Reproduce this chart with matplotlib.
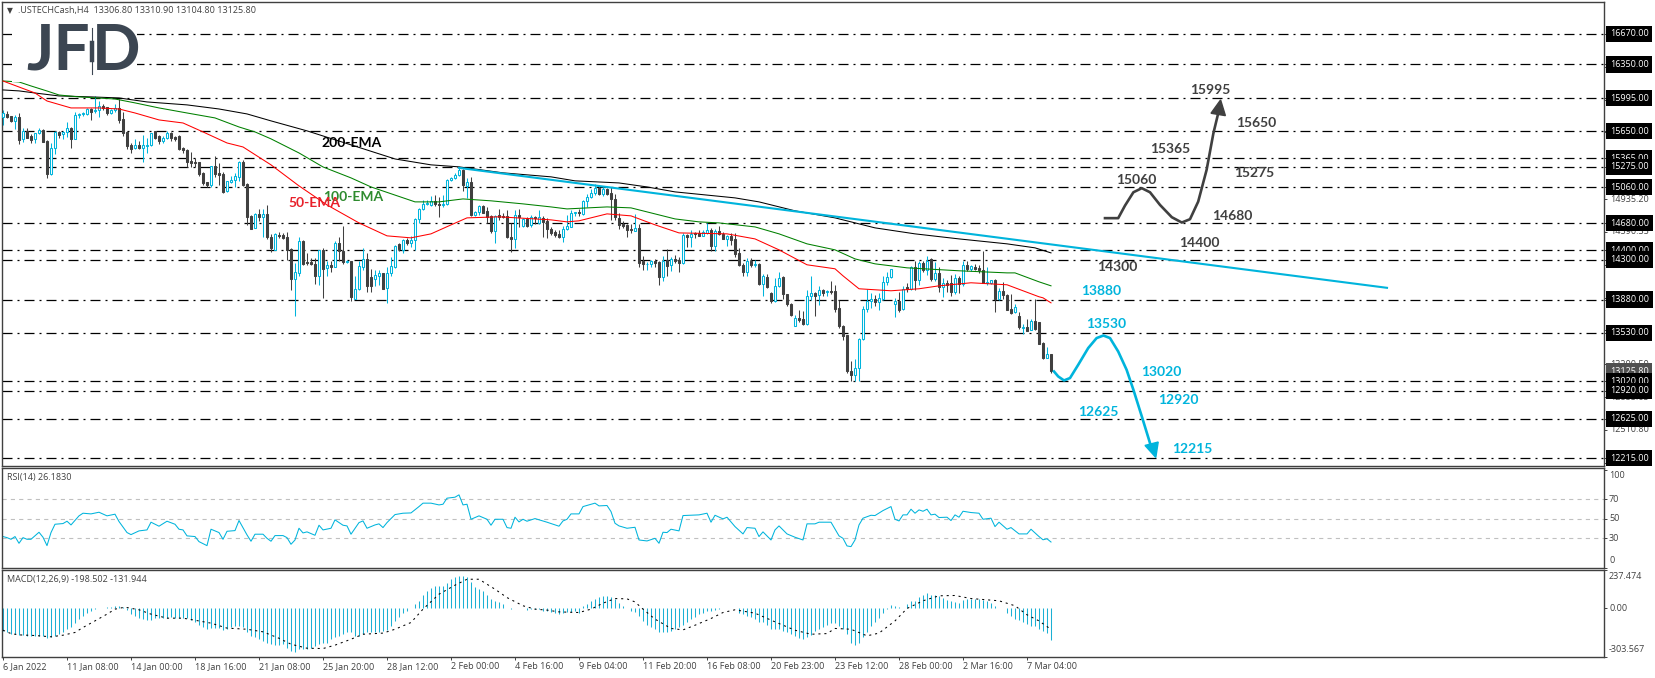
import matplotlib
matplotlib.use('Agg')
import matplotlib.pyplot as plt
from matplotlib.lines import Line2D

plt.rcParams['font.family'] = ['Open Sans', 'DejaVu Sans']
plt.rcParams['lines.scale_dashes'] = False

# Candles, bar 0 to 262 (b = up, d = down)
candle_dir = ("bddbdbddbb" "ddbbdbbdbb" "bbdbbddbbd" "dddbdbbbdd" "bbdddddddd"
              "ddbdddbbbb" "dddbdbddbd" "dddbbddddb" "dbdbddbdbb" "bddbbdbbbd"
              "bdbbbbbbdd" "bbbbbdbdbb" "dddbddddbd" "bdbdbddddd" "bbbbdbbbbd"
              "bdddddddbd" "dbbddbdbdd" "bdbddbbdbd" "dbddddbdbd" "bddbbdddbd"
              "dbbdbdbddd" "dddbbbbbdb" "bbbbdbdbdb" "dbdbdbddbd" "bdbdddbbdb"
              "dddbdbdbdd" "dbd")
highs = [15872, 15858, 15813, 15820, 15841, 15680, 15680, 15620, 15634, 15680,
         15669, 15557, 15522, 15652, 15652, 15652, 15746, 15697, 15847, 15844,
         15847, 15896, 15896, 16019, 15966, 15935, 15907, 15879, 15935, 15984,
         15854, 15652, 15522, 15564, 15546, 15610, 15574, 15627, 15648, 15610,
         15596, 15648, 15645, 15602, 15610, 15487, 15462, 15434, 15372, 15330,
         15218, 15120, 15284, 15389, 15319, 15224, 15130, 15179, 15207, 15340,
         15347, 15102, 14770, 14787, 14829, 14829, 14874, 14570, 14577, 14588,
         14577, 14594, 14420, 14269, 14532, 14507, 14374, 14314, 14314, 14402,
         14420, 14280, 14280, 14490, 14532, 14654, 14297, 14290, 14122, 14280,
         14426, 14367, 14202, 14192, 14192, 14157, 14227, 14332, 14454, 14472,
         14514, 14524, 14549, 14734, 14840, 14927, 14927, 14972, 14980, 14962,
         14980, 15144, 15172, 15207, 15270, 15249, 15154, 15172, 14812, 14874,
         14874, 14857, 14770, 14770, 14829, 14787, 14822, 14682, 14822, 14829,
         14734, 14752, 14770, 14759, 14822, 14762, 14734, 14640, 14612, 14612,
         14654, 14770, 14822, 14804, 14829, 14927, 14986, 15039, 15092, 15074,
         15067, 15056, 15067, 14986, 14787, 14706, 14675, 14675, 14776, 14675,
         14339, 14272, 14297, 14304, 14280, 14339, 14409, 14325, 14350, 14325,
         14584, 14570, 14612, 14594, 14612, 14612, 14689, 14630, 14619, 14654,
         14594, 14560, 14577, 14577, 14420, 14262, 14314, 14314, 14297, 14269,
         14150, 14150, 13964, 14104, 14174, 14122, 13940, 13842, 13720, 13772,
         13762, 13982, 14122, 13964, 14017, 13989, 13982, 14077, 14034, 13877,
         13614, 13510, 13236, 13254, 13475, 13814, 13989, 13947, 13930, 13947,
         14122, 14174, 14199, 13894, 13964, 14024, 14052, 14234, 14290, 14280,
         14280, 14339, 14314, 14272, 14220, 14104, 14080, 14140, 14150, 14129,
         14290, 14290, 14244, 14255, 14244, 14392, 14220, 14087, 14094, 14000,
         14062, 13940, 13940, 13835, 13744, 13625, 13674, 13674, 13884, 13639,
         13429, 13380, 13311]
lows = [15715, 15784, 15750, 15669, 15515, 15540, 15574, 15522, 15529, 15620,
        15536, 15162, 15186, 15410, 15581, 15567, 15592, 15477, 15564, 15784,
        15812, 15820, 15767, 15837, 15802, 15872, 15820, 15827, 15854, 15732,
        15602, 15462, 15417, 15462, 15462, 15322, 15417, 15494, 15567, 15512,
        15522, 15564, 15546, 15550, 15452, 15424, 15270, 15270, 15270, 15182,
        15084, 15067, 15060, 15172, 15084, 15004, 15014, 15102, 15060, 15126,
        15078, 14664, 14619, 14630, 14710, 14542, 14514, 14384, 14402, 14525,
        14514, 14297, 13982, 13712, 14122, 14244, 14244, 14244, 14045, 14028,
        13895, 14122, 14174, 14220, 14280, 14255, 14262, 13860, 13884, 13982,
        14192, 13958, 13958, 14017, 14034, 13989, 13842, 14122, 14210, 14395,
        14374, 14454, 14430, 14402, 14682, 14822, 14874, 14864, 14864, 14742,
        14850, 14874, 15130, 15144, 15179, 15025, 14944, 14762, 14759, 14770,
        14787, 14682, 14577, 14472, 14717, 14734, 14524, 14378, 14420, 14647,
        14647, 14647, 14647, 14675, 14675, 14542, 14524, 14560, 14542, 14524,
        14482, 14612, 14640, 14762, 14759, 14770, 14857, 14945, 14980, 14980,
        14969, 14980, 14717, 14717, 14622, 14630, 14532, 14584, 14595, 14220,
        14192, 14192, 14220, 14227, 14034, 14070, 14122, 14185, 14262, 14174,
        14255, 14430, 14437, 14524, 14549, 14549, 14570, 14385, 14385, 14560,
        14514, 14444, 14454, 14322, 14234, 14129, 14129, 14227, 14220, 14034,
        13912, 14000, 13842, 13852, 14010, 13884, 13814, 13712, 13597, 13639,
        13614, 13614, 13870, 13709, 13818, 13912, 13919, 13940, 13754, 13580,
        13457, 13107, 13026, 13026, 13026, 13457, 13754, 13790, 13814, 13765,
        13877, 14034, 14104, 13692, 13754, 13772, 13964, 13982, 13982, 14034,
        14174, 14140, 14070, 14077, 13964, 13902, 13964, 13912, 13940, 13947,
        14017, 14185, 14185, 14192, 14164, 14052, 14034, 14045, 13744, 13877,
        13884, 13765, 13730, 13737, 13569, 13520, 13545, 13555, 13562, 13412,
        13254, 13264, 13105]
body_tops = [15837, 15827, 15806, 15795, 15798, 15648, 15652, 15599, 15627, 15658,
             15662, 15546, 15473, 15641, 15641, 15645, 15680, 15680, 15816, 15827,
             15837, 15879, 15879, 15868, 15910, 15910, 15900, 15868, 15893, 15893,
             15778, 15641, 15505, 15505, 15505, 15501, 15501, 15627, 15648, 15599,
             15574, 15627, 15627, 15588, 15599, 15470, 15452, 15336, 15322, 15322,
             15210, 15112, 15280, 15284, 15207, 15196, 15123, 15134, 15176, 15322,
             15326, 15092, 14762, 14780, 14780, 14776, 14780, 14532, 14570, 14560,
             14556, 14532, 14416, 14168, 14496, 14496, 14276, 14272, 14252, 14402,
             14402, 14244, 14244, 14479, 14479, 14395, 14286, 14290, 13989, 14234,
             14308, 14308, 14112, 14140, 14157, 14157, 14157, 14234, 14447, 14465,
             14507, 14507, 14507, 14727, 14829, 14885, 14899, 14916, 14916, 14885,
             14885, 15137, 15154, 15186, 15242, 15242, 15112, 15120, 14798, 14864,
             14864, 14815, 14759, 14762, 14770, 14762, 14759, 14542, 14770, 14766,
             14724, 14724, 14745, 14742, 14742, 14734, 14700, 14622, 14588, 14570,
             14619, 14650, 14787, 14797, 14804, 14913, 14955, 15000, 15056, 15053,
             15039, 15042, 15000, 14934, 14734, 14675, 14661, 14619, 14630, 14630,
             14280, 14258, 14290, 14286, 14276, 14286, 14297, 14304, 14304, 14297,
             14556, 14560, 14570, 14577, 14577, 14588, 14612, 14612, 14602, 14602,
             14570, 14549, 14549, 14518, 14370, 14244, 14286, 14286, 14252, 14255,
             14122, 14115, 13947, 14024, 14108, 14112, 13937, 13832, 13684, 13688,
             13674, 13919, 13947, 13947, 13982, 13978, 13968, 13968, 13972, 13793,
             13597, 13510, 13132, 13160, 13464, 13779, 13860, 13888, 13888, 13894,
             14062, 14115, 14199, 13866, 13866, 13989, 14010, 14220, 14224, 14262,
             14262, 14280, 14304, 14157, 14157, 14052, 14052, 14052, 14104, 14104,
             14238, 14244, 14234, 14220, 14210, 14192, 14062, 14080, 14080, 13968,
             13968, 13930, 13782, 13800, 13709, 13590, 13594, 13653, 13656, 13639,
             13422, 13310, 13307]
body_bots = [15802, 15802, 15760, 15760, 15557, 15564, 15578, 15560, 15564, 15627,
             15540, 15200, 15200, 15470, 15613, 15617, 15645, 15571, 15571, 15816,
             15827, 15834, 15854, 15858, 15868, 15890, 15840, 15844, 15868, 15767,
             15634, 15494, 15466, 15470, 15470, 15470, 15498, 15501, 15578, 15550,
             15546, 15574, 15578, 15564, 15462, 15448, 15330, 15319, 15319, 15200,
             15109, 15084, 15088, 15200, 15193, 15014, 15018, 15120, 15134, 15172,
             15088, 14752, 14626, 14630, 14748, 14752, 14532, 14420, 14402, 14552,
             14525, 14402, 14098, 14098, 14157, 14255, 14262, 14255, 14132, 14132,
             14202, 14210, 14227, 14227, 14395, 14272, 14272, 13902, 13888, 13989,
             14227, 14017, 14017, 14098, 14132, 13992, 13996, 14157, 14220, 14409,
             14402, 14479, 14479, 14507, 14724, 14829, 14885, 14878, 14885, 14871,
             14871, 14885, 15137, 15154, 15186, 15084, 15078, 14770, 14770, 14798,
             14787, 14745, 14602, 14605, 14745, 14752, 14532, 14518, 14514, 14742,
             14654, 14654, 14658, 14734, 14689, 14692, 14619, 14584, 14560, 14535,
             14535, 14619, 14647, 14787, 14787, 14780, 14910, 14955, 14997, 14990,
             14990, 14990, 14934, 14742, 14664, 14654, 14612, 14612, 14602, 14269,
             14255, 14252, 14255, 14269, 14112, 14112, 14234, 14238, 14286, 14269,
             14262, 14532, 14532, 14570, 14552, 14552, 14584, 14444, 14444, 14570,
             14518, 14514, 14507, 14360, 14238, 14174, 14174, 14244, 14248, 14045,
             14045, 14007, 13860, 13860, 14017, 13937, 13832, 13720, 13607, 13667,
             13625, 13622, 13912, 13922, 13930, 13947, 13961, 13954, 13782, 13597,
             13502, 13125, 13090, 13090, 13160, 13464, 13779, 13860, 13852, 13849,
             13888, 14062, 14112, 13832, 13772, 13779, 13992, 13992, 14080, 14080,
             14192, 14192, 14094, 14094, 14007, 14007, 14034, 13964, 13964, 14045,
             14045, 14202, 14206, 14202, 14192, 14052, 14055, 14055, 13888, 13888,
             13930, 13772, 13737, 13744, 13587, 13583, 13552, 13562, 13569, 13415,
             13264, 13264, 13126]

# Moving averages, read at the bends
ema200_idx = [0, 4, 8, 14, 22, 29, 36, 46, 54, 61, 67, 76, 87, 98, 107, 114, 125, 137,
              143, 154, 161, 168, 183, 189, 198, 208, 218, 228, 239, 251, 258, 262]
ema200 = [16082, 16072, 16050, 16019, 16009, 15998, 15956, 15925, 15882, 15830, 15757,
          15652, 15505, 15357, 15295, 15274, 15211, 15169, 15127, 15105, 15063, 15011,
          14948, 14906, 14812, 14738, 14633, 14570, 14517, 14465, 14423, 14370]
ema100_idx = [0, 4, 7, 11, 14, 19, 28, 33, 39, 46, 53, 59, 63, 67, 74, 80, 87, 92, 103,
              109, 115, 122, 130, 137, 141, 151, 157, 168, 174, 179, 188, 194, 201, 208,
              213, 218, 226, 239, 251, 253, 259, 262]
ema100 = [16176, 16166, 16124, 16071, 16029, 16009, 15987, 15946, 15893, 15840, 15788,
          15693, 15641, 15568, 15420, 15273, 15158, 15063, 14906, 14906, 14937, 14917,
          14885, 14853, 14832, 14853, 14843, 14727, 14696, 14685, 14643, 14570, 14465,
          14402, 14307, 14255, 14213, 14182, 14160, 14160, 14066, 14024]
ema50_idx = [0, 4, 8, 11, 17, 24, 29, 33, 39, 45, 50, 56, 60, 67, 74, 81, 89, 96, 102,
             107, 112, 116, 124, 137, 141, 144, 151, 157, 163, 169, 181, 188, 194, 201,
             208, 210, 214, 222, 229, 234, 242, 251, 259, 260, 262]
ema50 = [16176, 16113, 16050, 15966, 15893, 15893, 15882, 15840, 15767, 15735, 15641,
         15525, 15483, 15295, 15074, 14874, 14685, 14549, 14528, 14570, 14664, 14738,
         14749, 14717, 14696, 14707, 14780, 14759, 14665, 14580, 14570, 14517, 14402,
         14245, 14203, 14129, 13993, 13972, 13993, 14024, 14056, 14035, 13909, 13898,
         13845]

# Trendline and the two scenario paths
trend_idx = [114, 346]
trend = [15263, 14003]
up_idx = [275.5, 278.8, 280.5, 282.6, 284.7, 286.75, 289.25, 292.2, 294.7, 296.75,
          298.8, 300.9, 302.6, 303.7]
up_path = [14735, 14735, 14867, 15007, 15050, 15007, 14874, 14745, 14689, 14724,
           14909, 15242, 15627, 15819]
up_head_idx = [304.4, 302, 305.6]
up_head = [15977, 15837, 15812]
down_idx = [262.75, 263.8, 265.25, 266.75, 268.8, 271.3, 273.4, 275.1, 276.75, 278.8,
            280.9, 282.6, 284.7, 286.75]
down_path = [13124, 13072, 13030, 13055, 13194, 13370, 13475, 13502, 13475, 13334,
             13142, 12932, 12652, 12372]
down_head_idx = [288.2, 285.5, 288.8]
down_head = [12221, 12347, 12383]

levels = [16670, 16350, 15995, 15650, 15365, 15275, 15060, 14680, 14400, 14300, 13880,
          13530, 13020, 12920, 12625, 12215]
price_ticks = [16325.65, 15980.80, 15635.95, 14935.20, 14590.35, 14245.50,
               13900.65, 13555.80, 13200.50, 12855.65, 12510.80, 12165.95]
last_price = 13125.80

# RSI, read at the bends
rsi_idx = [0, 1, 2, 3, 4, 5, 6, 7, 9, 10, 11, 12, 13, 15, 16, 17, 19, 20, 22, 24, 26, 28,
           29, 31, 32, 34, 36, 37, 39, 41, 43, 44, 45, 46, 48, 49, 51, 52, 54, 55, 56, 58,
           59, 61, 62, 63, 65, 66, 67, 68, 70, 71, 72, 73, 74, 75, 76, 78, 79, 80, 82, 83,
           85, 86, 87, 89, 90, 91, 93, 94, 95, 96, 98, 100, 102, 104, 105, 107, 109, 110,
           111, 113, 114, 115, 116, 117, 119, 121, 122, 123, 125, 126, 127, 128, 129, 130,
           131, 133, 136, 139, 140, 141, 142, 144, 145, 148, 149, 151, 152, 153, 154, 156,
           158, 159, 161, 163, 164, 165, 166, 167, 169, 170, 172, 174, 176, 177, 178, 180,
           181, 183, 185, 186, 188, 189, 190, 192, 193, 194, 196, 198, 200, 201, 203, 204,
           207, 209, 210, 211, 212, 213, 214, 215, 217, 218, 220, 222, 223, 224, 225, 226,
           227, 228, 229, 230, 231, 232, 233, 234, 236, 237, 238, 239, 240, 242, 244, 245,
           247, 248, 249, 251, 252, 254, 256, 257, 259, 260, 261, 262]
rsi = [31.8, 30.7, 29, 31.8, 24.9, 30.7, 29, 29, 36.2, 31.1, 22.5, 35.9, 44.4, 45.1, 47.5,
       43.7, 53, 55.7, 55, 56.7, 53, 54.7, 47.2, 35.9, 33.8, 37.6, 38.6, 46.5, 42.4, 47.5,
       44.4, 39.3, 38.6, 32.5, 31.8, 26.6, 22.5, 39.3, 35.9, 29, 37.2, 37.9, 48.2, 33.5,
       27, 34.2, 34.2, 30, 27, 32.8, 32.8, 30.7, 23.9, 28.3, 40.3, 35.5, 36.6, 33.1, 43.4,
       38.6, 40.3, 48.9, 43.4, 42.7, 34.2, 46.1, 47.8, 40.3, 43.7, 44.8, 41, 46.1, 54.3,
       55.7, 56, 62.5, 66, 66, 64.2, 64.9, 71.1, 72.1, 74.5, 64.2, 64.9, 49.5, 53, 49.5,
       43.4, 49.5, 49.5, 41, 40.3, 51.6, 46.8, 49.5, 47.5, 50.2, 46.5, 42.4, 47.8, 49.5,
       55, 55, 62.5, 66, 63.2, 63.6, 57.4, 45.4, 42.7, 40.3, 41.3, 28.3, 27.3, 30, 24.9,
       36.2, 35.9, 39.3, 37.6, 53.3, 53.6, 54, 55.7, 46.5, 53.6, 49.9, 51.6, 42, 34.5, 41,
       40.3, 31.8, 36.6, 28.3, 38.6, 42.7, 34.5, 31.1, 28.3, 44.8, 44.8, 46.5, 46.5, 32.5,
       30, 22.2, 21.5, 28.3, 43.7, 50.6, 53.6, 53.3, 58.4, 62.5, 49.5, 47.8, 54, 54, 59.8,
       55.7, 59.1, 57.7, 59.8, 54, 54.7, 51.3, 51.6, 48.2, 54, 51.6, 57.7, 56.4, 55.7,
       49.5, 50.6, 42, 46.5, 39.3, 41, 34.5, 34.5, 39.3, 31.8, 28.5, 29.5, 26.2]

# MACD histogram, one value per candle
macd = [-141, -151, -158, -162, -166, -166, -172, -172, -172, -172, -172, -187, -182, -172,
        -162, -147, -131, -120, -95, -68, -48, -31, -17, -6, 2, 2, 8, 8, 12, 15, 8, -10,
        -37, -48, -58, -68, -73, -73, -62, -58, -64, -58, -54, -58, -58, -58, -64, -75, -85,
        -104, -120, -131, -126, -126, -124, -137, -131, -120, -110, -110, -120, -147, -172,
        -182, -189, -203, -214, -224, -228, -228, -224, -245, -265, -272, -255, -255, -255,
        -245, -234, -220, -214, -214, -193, -182, -172, -162, -151, -151, -172, -172, -158,
        -151, -151, -151, -151, -141, -135, -110, -79, -52, -31, -17, 0, 25, 46, 81, 104, 124,
        135, 139, 139, 155, 180, 195, 203, 201, 197, 164, 129, 122, 108, 83, 56, 46, 39, 29, 4,
        -2, 0, 0, 4, -10, -2, -4, -6, -17, -17, -23, -31, -37, -33, -23, -23, -17, -27, 15, 25,
        46, 60, 70, 75, 75, 70, 60, 35, 15, 0, -17, -23, -48, -79, -104, -116, -131, -145, -145,
        -147, -141, -131, -120, -104, -89, -68, -52, -37, -27, -17, -17, -12, -2, 0, 0, 0, 0,
        -27, -37, -48, -52, -68, -85, -89, -104, -131, -131, -131, -141, -151, -162, -176, -187,
        -193, -182, -168, -141, -131, -116, -106, -95, -95, -110, -131, -162, -214, -228, -214,
        -182, -145, -110, -85, -64, -31, -6, 21, 15, 10, 4, 25, 46, 46, 70, 81, 93, 83, 83, 73,
        62, 50, 44, 39, 35, 52, 60, 60, 60, 56, 50, 46, 35, 15, 0, 0, -27, -48, -68, -73, -89,
        -100, -110, -110, -131, -141, -155, -198.5]
signal_idx = [0, 2, 4, 8, 12, 15, 18, 20, 23, 26, 28, 30, 31, 34, 37, 41, 45, 48, 52, 56, 61,
              65, 69, 72, 76, 80, 83, 87, 90, 95, 98, 102, 105, 109, 113, 116, 119, 123, 126,
              130, 133, 136, 139, 144, 147, 150, 153, 156, 158, 160, 163, 167, 170, 173, 177,
              180, 183, 188, 193, 198, 202, 206, 208, 212, 216, 219, 223, 226, 230, 234, 238,
              242, 249, 253, 256, 259, 262]
signal = [-137, -158, -166, -170, -178, -168, -151, -120, -79, -37, -6, 4, 4, -10, -37, -62,
          -62, -75, -93, -124, -131, -147, -187, -224, -249, -251, -230, -193, -162, -155,
          -131, -89, -6, 87, 143, 180, 180, 118, 66, 15, -6, -12, -23, -27, -6, 31, 60, 58, 39,
          -6, -68, -126, -135, -106, -64, -27, -10, -31, -85, -137, -162, -158, -126, -131,
          -172, -155, -79, -2, 46, 77, 79, 60, 46, 15, -41, -79, -132]

date_ticks = [0, 16, 32, 48, 64, 80, 96, 112, 128, 144, 160, 176, 192, 208, 224, 240, 256]
date_labels = ['6 Jan 2022', '11 Jan 08:00', '14 Jan 00:00', '18 Jan 16:00', '21 Jan 08:00',
               '25 Jan 20:00', '28 Jan 12:00', '2 Feb 00:00', '4 Feb 16:00', '9 Feb 04:00',
               '11 Feb 20:00', '16 Feb 08:00', '20 Feb 23:00', '23 Feb 12:00', '28 Feb 00:00',
               '2 Mar 16:00', '7 Mar 04:00']

BLUE = '#00B4DC'
DARK = '#404040'
W, H = 1655, 678


def panel(top, bottom, left=2, right=1604):
    # axes from pixel edges, y counted from the top of the picture
    ax = fig.add_axes([left / W, 1 - bottom / H, (right - left) / W, (bottom - top) / H])
    ax.set_xlim(-0.25, 400.25)
    for s in ax.spines.values():
        s.set_color(DARK)
        s.set_linewidth(1.0)
    ax.yaxis.tick_right()
    ax.tick_params(axis='y', length=2.2, width=0.7, color=DARK, labelright=False)
    ax.tick_params(axis='x', length=0, labelbottom=False)
    return ax


fig = plt.figure(figsize=(W / 100, H / 100), dpi=100, facecolor='white')

ax = panel(2, 466)
ax.set_ylim(12131, 17006)
ax.set_yticks(levels + price_ticks)

# Levels behind everything else
for lv in levels:
    ax.axhline(lv, color='black', lw=0.9, ls=(0, (7.2, 3.6, 1.44, 3.6)), zorder=1)

# Candles
idx = list(range(len(highs)))
colors = [BLUE if d == 'b' else DARK for d in candle_dir]
faces = ['white' if d == 'b' else DARK for d in candle_dir]
heights = [t - b for t, b in zip(body_tops, body_bots)]
ax.vlines(idx, lows, highs, colors=colors, lw=0.75, zorder=2)
ax.bar(idx, heights, bottom=body_bots, width=0.55, color=faces, edgecolor=colors,
       linewidth=0.75, zorder=3)

# Moving averages and trendline
ax.plot(ema200_idx, ema200, color='black', lw=0.75, zorder=4)
ax.plot(ema100_idx, ema100, color='#008000', lw=0.75, zorder=4)
ax.plot(ema50_idx, ema50, color='#FF0000', lw=0.75, zorder=4)
ax.plot(trend_idx, trend, color=BLUE, lw=1.5, zorder=5)

# Scenario paths
ax.plot(up_idx, up_path, color=DARK, lw=1.9, zorder=6)
ax.fill(up_head_idx, up_head, color=DARK, zorder=6)
ax.plot(down_idx, down_path, color=BLUE, lw=1.9, zorder=6)
ax.fill(down_head_idx, down_head, color=BLUE, zorder=6)

# Text on the chart
label_font = dict(family=['Lato', 'DejaVu Sans'], fontsize=10, fontweight='bold',
                  ha='center', va='center', zorder=7)
for i, p, s in [(301.75, 16082, '15995'), (313.25, 15735, '15650'), (291.75, 15462, '15365'),
                (312.75, 15210, '15275'), (283.25, 15137, '15060'), (307.25, 14759, '14680'),
                (299, 14475, '14400'), (278.5, 14223, '14300')]:
    ax.text(i, p, s, color=DARK, **label_font)
for i, p, s in [(274.5, 13971, '13880'), (275.75, 13625, '13530'), (289.5, 13121, '13020'),
                (293.75, 12827, '12920'), (273.75, 12701, '12625'), (297.25, 12313, '12215')]:
    ax.text(i, p, s, color=BLUE, **label_font)
ax.text(87.25, 15525, '200-EMA', color='black', **label_font)
ax.text(87.5, 14958, '100-EMA', color='#2E8B2E', **label_font)
ax.text(77.75, 14895, '50-EMA', color='#E8202A', **label_font)

# Price scale: plain ticks first, level labels on top
small = dict(fontsize=6.5, color=DARK, va='center', clip_on=False)
for p in price_ticks:
    ax.text(401.75, p, f'{p:.2f}', zorder=8, **small)
ax.text(401.75, last_price, f'{last_price:.2f}', fontsize=6.5, color='white', va='center',
        clip_on=False, zorder=9,
        bbox=dict(boxstyle='square,pad=0.4', facecolor='#505050', edgecolor='none'))
for lv in levels:
    ax.text(401.75, lv, f'{lv:.2f}', fontsize=6.5, color='white', va='center', clip_on=False,
            zorder=10, bbox=dict(boxstyle='square,pad=0.4', facecolor='black', edgecolor='none'))

# Header and logo
fig.text(6.5 / W, 1 - 10.5 / H, '\u25bc', family=['DejaVu Sans'], fontsize=5.5, color=DARK,
         ha='left', va='center')
fig.text(18 / W, 1 - 10.5 / H, '.USTECHCash,H4  13306.80 13310.90 13104.80 13125.80',
         fontsize=6.5, color=DARK, ha='left', va='center')

ax.add_patch(plt.Rectangle((12 / W, 1 - 82 / H), 125 / W, 56 / H, transform=fig.transFigure,
                           facecolor='white', edgecolor='none', zorder=11))
fig.text(26 / W, 1 - 51 / H, 'JF', family=['Lato', 'DejaVu Sans'], fontsize=46, fontweight='bold',
         color='#3C4652', ha='left', va='center', zorder=12)
fig.text(92 / W, 1 - 51 / H, 'D', family=['Lato', 'DejaVu Sans'], fontsize=46, fontweight='bold',
         color='#3C4652', ha='left', va='center', zorder=12)
fig.add_artist(Line2D([91.5 / W, 91.5 / W], [1 - 28 / H, 1 - 74 / H], color='#3C4652', lw=0.8, zorder=12))
fig.add_artist(Line2D([91.5 / W, 91.5 / W], [1 - 43 / H, 1 - 60 / H], color='#3C4652', lw=3.2, zorder=12))

# RSI panel
ax_rsi = panel(468, 568)
ax_rsi.set_ylim(-0.4, 102)
ax_rsi.set_yticks([100, 70, 50, 30, 0])
for lv in [70, 50, 30]:
    ax_rsi.axhline(lv, color='#C0C0C0', lw=0.8, ls=(0, (3, 3)), zorder=1)
ax_rsi.plot(rsi_idx, rsi, color=BLUE, lw=0.75, zorder=2)
fig.text(7 / W, 1 - 477.5 / H, 'RSI(14) 26.1830', fontsize=6.5, color=DARK, ha='left', va='center')
for v, s in [(94, '100'), (70, '70'), (50, '50'), (30, '30'), (6.8, '0')]:
    ax_rsi.text(401.5, v, s, **small)

# MACD panel
ax_macd = panel(570, 657)
ax_macd.set_ylim(-303.567, 237.474)
ax_macd.set_yticks([237.474, 0, -303.567])
ax_macd.vlines(idx, 0, macd, colors='#1CB0D4', lw=0.75, zorder=2)
ax_macd.plot(signal_idx, signal, color='black', lw=0.75, ls=(0, (1.5, 2.8)), zorder=3)
fig.text(7 / W, 1 - 579.5 / H, 'MACD(12,26,9) -198.502 -131.944', fontsize=6.5, color=DARK,
         ha='left', va='center')
for v, s in [(199, '237.474'), (0, '0.00'), (-255, '-303.567')]:
    ax_macd.text(401.5, v, s, **small)

ax_macd.set_xticks(date_ticks)
ax_macd.set_xticklabels(date_labels, ha='left')
ax_macd.tick_params(axis='x', length=2.2, width=0.7, color=DARK, labelbottom=True, labelsize=6.5,
                    labelcolor=DARK, pad=1.5)

fig.savefig('out.png', dpi=100)
